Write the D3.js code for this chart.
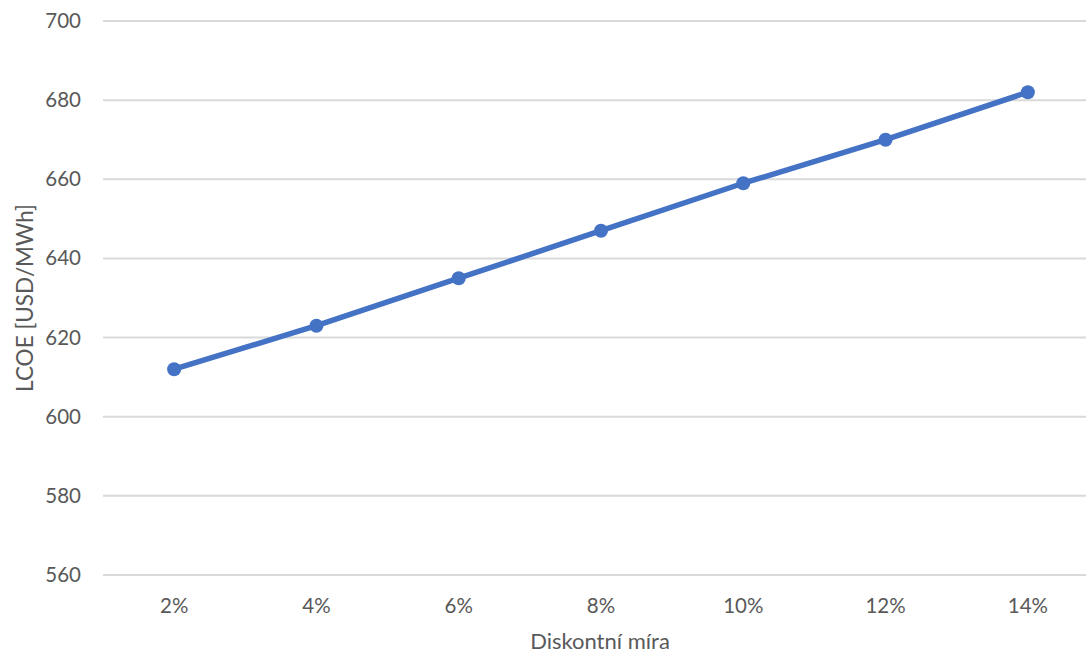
<!DOCTYPE html>
<html>
<head>
<meta charset="utf-8">
<script src="https://cdn.jsdelivr.net/npm/d3@7"></script>
<style>
  html, body { margin: 0; padding: 0; background: #fff; }
  svg { display: block; }
  text { font-family: Lato, "Open Sans", sans-serif; fill: #595959; }
</style>
</head>
<body>
<svg id="chart" width="1086" height="655"></svg>
<script>
// Discount rate categories and resulting LCOE
const rates = ["2%", "4%", "6%", "8%", "10%", "12%", "14%"];
const lcoe = [612, 623, 635, 647, 659, 670, 682];
const yTicks = [560, 580, 600, 620, 640, 660, 680, 700];

const svg = d3.select("#chart");
const plot = { left: 103, right: 1099, top: 21, bottom: 575 };
const font = "Lato, 'Open Sans', sans-serif";

const x = d3.scaleBand().domain(rates).range([plot.left, plot.right]);
const y = d3.scaleLinear().domain([560, 700]).range([plot.bottom, plot.top]);

// horizontal gridlines
svg.append("g")
  .selectAll("line")
  .data(yTicks)
  .join("line")
  .attr("x1", plot.left).attr("x2", plot.right)
  .attr("y1", d => y(d)).attr("y2", d => y(d))
  .attr("stroke", "#d9d9d9").attr("stroke-width", 2);

// y axis labels
const yAxis = svg.append("g")
  .attr("transform", `translate(${plot.left - 22},0)`)
  .call(d3.axisLeft(y).tickValues(yTicks).tickSize(0).tickPadding(0));
yAxis.select(".domain").remove();
yAxis.selectAll("text").attr("font-size", 20.5).attr("fill", "#595959")
  .style("font-family", font);

// x axis labels
const xAxis = svg.append("g")
  .attr("transform", `translate(0,${plot.bottom + 23})`)
  .call(d3.axisBottom(x).tickSize(0).tickPadding(0));
xAxis.select(".domain").remove();
xAxis.selectAll("text").attr("font-size", 20.5).attr("fill", "#595959")
  .style("font-family", font);

// axis titles
svg.append("text")
  .attr("x", 600).attr("y", 649)
  .attr("text-anchor", "middle")
  .attr("font-size", 22)
  .text("Diskontní míra");

svg.append("text")
  .attr("transform", "translate(33,298) rotate(-90)")
  .attr("text-anchor", "middle")
  .attr("font-size", 22.5)
  .text("LCOE [USD/MWh]");

const cx = (d, i) => x(rates[i]) + x.bandwidth() / 2;

// series line
svg.append("path")
  .datum(lcoe)
  .attr("fill", "none")
  .attr("stroke", "#4472c4")
  .attr("stroke-width", 5.5)
  .attr("stroke-linejoin", "round")
  .attr("d", d3.line().x(cx).y(d => y(d)));

// markers
svg.append("g")
  .selectAll("circle")
  .data(lcoe)
  .join("circle")
  .attr("cx", cx)
  .attr("cy", d => y(d))
  .attr("r", 7)
  .attr("fill", "#4472c4");
</script>
</body>
</html>
